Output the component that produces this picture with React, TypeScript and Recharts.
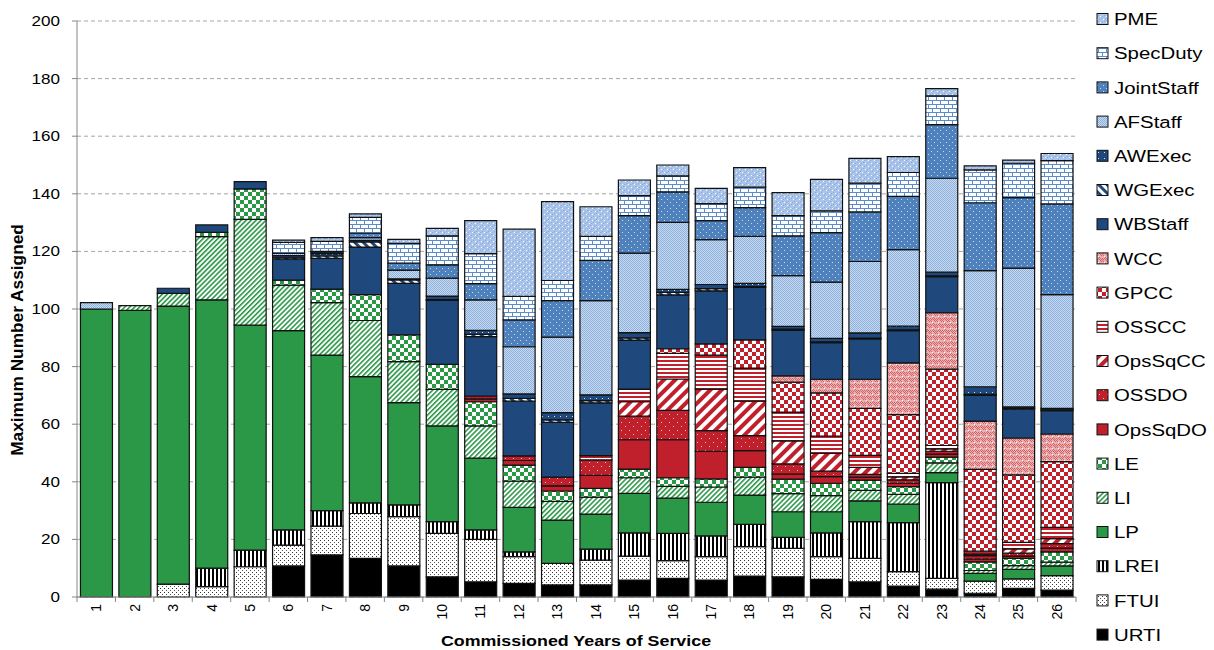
import React from 'react';
import { BarChart, Bar, XAxis, YAxis, CartesianGrid } from 'recharts';

const years = ['1','2','3','4','5','6','7','8','9','10','11','12','13','14','15','16','17','18','19','20','21','22','23','24','25','26'];

const URTI = [0,0,0,0,0,10.8,14.6,13.4,10.8,7,5.3,4.7,4.2,4.2,5.9,6.5,5.9,7.3,7,6.1,5.3,3.8,2.7,1.3,3,2.4];
const FTUI = [0,0,4.5,3.6,10.5,7.2,10,15.6,17.1,15.1,14.7,9.3,7.5,8.6,8.3,6.1,8.1,10.2,9.9,7.9,8.1,5,3.8,4.2,3.3,5];
const LREI = [0,0,0,6.4,5.8,5.3,5.4,3.7,4.1,4.1,3.3,1.7,0,3.8,8.1,9.5,7.2,7.7,3.8,8.3,12.8,17,33.2,0,0,0];
const LP = [100,99.5,96.5,93.2,78.1,69.2,54,43.8,35.5,33.2,24.9,15.4,15,12.2,13.7,12.2,11.7,10.2,8.9,7.3,7.2,6.5,3.5,2.7,3.3,3.4];
const LI = [0,1.7,4.4,21.9,36.7,15.8,18.2,19.5,14.2,12.7,11.2,9.1,6.5,5.9,5.4,4.1,5.3,6.2,6.3,5.6,3.6,3.3,3.4,1,1.3,1.3];
const LE = [0,0,0,1.5,10.6,1.7,4.7,9,9.3,8.7,8.4,5.6,3.6,3,3,3,2.8,3.4,5,4.3,3.6,2.7,2,3,2.5,3.6];
const OpsSqDO = [0,0,0,0,0,0,0,0,0,0,1,1.6,1.8,4.5,10.2,13.2,9.6,5.8,1.8,2.3,1,1.2,1,1,0.8,1.3];
const OSSDO = [0,0,0,0,0,0,0,0,0,0,1,1.6,3,5.4,8.2,10.2,7.2,5.2,3.5,1.9,1,1.2,1,1.2,1,1.5];
const OpsSqCC = [0,0,0,0,0,0,0,0,0,0,0,0,0,0,5,10.9,14.4,12,8,6.2,2.4,1,0.8,0.5,1.5,1.8];
const OSSCC = [0,0,0,0,0,0,0,0,0,0,0,0,0,1.5,4.4,8.9,11.8,11.5,10,6,4.2,1.2,1.2,1,2.3,3.9];
const GPCC = [0,0,0,0,0,0,0,0,0,0,0,0,0,0,0,1.6,3.9,9.8,10.4,15,16.3,20.4,26.5,28.4,23.4,22.8];
const WCC = [0,0,0,0,0,0,0,0,0,0,0,0,0,0,0,0,0,0,2.2,4.7,10.1,18,19.6,16.8,12.8,9.6];
const WBStaff = [0,0,1.8,2.6,2.5,7.3,10.7,16.5,17.9,22.2,20.6,19,19,18.3,17,18.7,18.4,18.2,15.8,12.7,14,11.2,12.5,9,10,8.1];
const WGExec = [0,0,0,0,0,0.5,0.8,1.8,1.2,0.3,0.8,1,0.9,0.8,0.8,0.9,0.8,0.3,0.4,0.3,0.3,0.3,0.3,0.3,0.3,0.3];
const AWExec = [0,0,0,0,0,0.7,0.8,0.5,0.4,1.2,1.4,1.5,2.5,2,1.8,1,1.4,1.1,1,1.2,1.8,1.3,1.3,2.6,0.5,0.5];
const AFStaff = [2.2,0,0,0,0,0.8,0.5,1,3,6.2,10.6,16.4,26.2,32.7,27.6,23.3,15.6,16.3,17.6,19.5,24.8,26.5,32.6,40.3,48.2,39.5];
const JointStaff = [0,0,0,0,0,0,0.3,1.5,2.4,4.6,5.6,9.3,12.7,14,13,10.6,6.6,10,13.8,17.2,17.2,18.5,18.6,23.6,24.5,31.5];
const SpecDuty = [0,0,0,0,0,3.8,3.5,5.5,6.9,10.1,10.4,8.2,7,8.3,7,5.5,5.9,7.1,7,7.6,10,8.3,10,11.4,11.9,15];
const PME = [0,0,0,0,0,0.8,1.3,1.2,1.4,2.6,11.5,23.3,27.4,10.3,5.4,3.8,5.3,6.8,8,10.9,8.6,5.5,2.5,1.4,1.1,2.5];

const yTicks = [0, 20, 40, 60, 80, 100, 120, 140, 160, 180, 200];

// bottom of the stack first
const series: { key: string; values: number[] }[] = [
  { key: 'URTI', values: URTI },
  { key: 'FTUI', values: FTUI },
  { key: 'LREI', values: LREI },
  { key: 'LP', values: LP },
  { key: 'LI', values: LI },
  { key: 'LE', values: LE },
  { key: 'OpsSqDO', values: OpsSqDO },
  { key: 'OSSDO', values: OSSDO },
  { key: 'OpsSqCC', values: OpsSqCC },
  { key: 'OSSCC', values: OSSCC },
  { key: 'GPCC', values: GPCC },
  { key: 'WCC', values: WCC },
  { key: 'WBStaff', values: WBStaff },
  { key: 'WGExec', values: WGExec },
  { key: 'AWExec', values: AWExec },
  { key: 'AFStaff', values: AFStaff },
  { key: 'JointStaff', values: JointStaff },
  { key: 'SpecDuty', values: SpecDuty },
  { key: 'PME', values: PME },
];

const data = years.map((year, i) => {
  const row: Record<string, any> = { year };
  series.forEach((s) => { row[s.key] = s.values[i]; });
  return row;
});

const green = '#2b9848';
const red = '#c0202c';
const navy = '#1f497d';
const blue = '#4f81bd';
const FONT = '"Liberation Sans", Arial, sans-serif';

const fills: Record<string, string> = {
  URTI: '#000000',
  FTUI: 'ftui',
  LREI: 'lrei',
  LP: green,
  LI: 'li',
  LE: 'le',
  OpsSqDO: red,
  OSSDO: 'ossdo',
  OpsSqCC: 'opssqcc',
  OSSCC: 'osscc',
  GPCC: 'gpcc',
  WCC: 'wcc',
  WBStaff: navy,
  WGExec: 'wgexec',
  AWExec: 'awexec',
  AFStaff: 'afstaff',
  JointStaff: 'jointstaff',
  SpecDuty: 'specduty',
  PME: 'pme',
};

const fillFor = (key: string, prefix: string) => {
  const f = fills[key];
  return f.startsWith('#') ? f : `url(#${prefix}-${f})`;
};

function Patterns({ prefix }: { prefix: string }) {
  const id = (n: string) => `${prefix}-${n}`;
  return (
    <defs>
      <pattern id={id('ftui')} width="4" height="4" patternUnits="userSpaceOnUse">
        <rect width="4" height="4" fill="#fff" />
        <rect x="0" y="0" width="1" height="1" fill="#333" />
        <rect x="2" y="2" width="1" height="1" fill="#555" />
      </pattern>
      <pattern id={id('lrei')} width="4" height="4" patternUnits="userSpaceOnUse">
        <rect width="4" height="4" fill="#fff" />
        <rect width="2" height="4" fill="#000" />
      </pattern>
      <pattern id={id('li')} width="3.5" height="3.5" patternUnits="userSpaceOnUse" patternTransform="rotate(45)">
        <rect width="3.5" height="3.5" fill="#fff" />
        <rect width="1.6" height="3.5" fill={green} />
      </pattern>
      <pattern id={id('le')} width="8" height="8" patternUnits="userSpaceOnUse">
        <rect width="8" height="8" fill="#fff" />
        <rect width="4" height="4" fill={green} />
        <rect x="4" y="4" width="4" height="4" fill={green} />
      </pattern>
      <pattern id={id('ossdo')} width="8" height="8" patternUnits="userSpaceOnUse">
        <rect width="8" height="8" fill={red} />
        <rect x="1" y="2" width="1" height="1" fill="#f4c4c4" />
        <rect x="5" y="6" width="1" height="1" fill="#f4c4c4" />
      </pattern>
      <pattern id={id('opssqcc')} width="8" height="8" patternUnits="userSpaceOnUse" patternTransform="rotate(45)">
        <rect width="8" height="8" fill="#fff" />
        <rect width="4" height="8" fill={red} />
      </pattern>
      <pattern id={id('osscc')} width="4" height="4" patternUnits="userSpaceOnUse">
        <rect width="4" height="4" fill="#fff" />
        <rect width="4" height="2" fill={red} />
      </pattern>
      <pattern id={id('gpcc')} width="8" height="8" patternUnits="userSpaceOnUse">
        <rect width="8" height="8" fill="#fff" />
        <rect width="4" height="4" fill={red} />
        <rect x="4" y="4" width="4" height="4" fill={red} />
      </pattern>
      <pattern id={id('wcc')} width="6" height="6" patternUnits="userSpaceOnUse">
        <rect width="6" height="6" fill="#eab0b1" />
        <rect width="1" height="1" fill="#d06466" />
        <rect x="2" y="0" width="1" height="1" fill="#d06466" />
        <rect x="4" y="0" width="1" height="1" fill="#d06466" />
        <rect x="1" y="1" width="1" height="1" fill="#d06466" />
        <rect x="3" y="1" width="1" height="1" fill="#d06466" />
        <rect x="5" y="1" width="1" height="1" fill="#d06466" />
        <rect x="0" y="2" width="1" height="1" fill="#d06466" />
        <rect x="4" y="2" width="1" height="1" fill="#d06466" />
        <rect x="1" y="3" width="1" height="1" fill="#d06466" />
        <rect x="5" y="3" width="1" height="1" fill="#d06466" />
        <rect x="2" y="4" width="1" height="1" fill="#fff" />
        <rect x="3" y="5" width="1" height="1" fill="#d06466" />
      </pattern>
      <pattern id={id('wgexec')} width="6" height="6" patternUnits="userSpaceOnUse" patternTransform="rotate(-45)">
        <rect width="6" height="6" fill="#fff" />
        <rect width="3" height="6" fill={navy} />
      </pattern>
      <pattern id={id('awexec')} width="6" height="6" patternUnits="userSpaceOnUse">
        <rect width="6" height="6" fill={navy} />
        <rect x="2" y="2" width="1" height="1" fill="#dbe5f1" />
      </pattern>
      <pattern id={id('afstaff')} width="2" height="2" patternUnits="userSpaceOnUse">
        <rect width="2" height="2" fill="#c8daf0" />
        <rect width="1" height="1" fill="#8eb0dc" />
        <rect x="1" y="1" width="1" height="1" fill="#8eb0dc" />
      </pattern>
      <pattern id={id('jointstaff')} width="6" height="6" patternUnits="userSpaceOnUse">
        <rect width="6" height="6" fill={blue} />
        <rect x="1" y="1" width="1" height="1" fill="#c9d9ee" />
        <rect x="4" y="4" width="1" height="1" fill="#c9d9ee" />
      </pattern>
      <pattern id={id('specduty')} width="8" height="8" patternUnits="userSpaceOnUse">
        <rect width="8" height="8" fill="#fff" />
        <rect width="8" height="1" fill="#5b8ccc" />
        <rect y="4" width="8" height="1" fill="#5b8ccc" />
        <rect width="1" height="4" fill="#5b8ccc" />
        <rect x="4" y="4" width="1" height="4" fill="#5b8ccc" />
      </pattern>
      <pattern id={id('pme')} width="6" height="6" patternUnits="userSpaceOnUse">
        <rect width="6" height="6" fill="#aac5e9" />
        <rect x="3" y="1" width="1" height="1" fill="#86a9d8" />
        <rect x="0" y="4" width="1" height="1" fill="#86a9d8" />
        <rect x="2" y="3" width="1" height="1" fill="#86a9d8" />
        <rect x="5" y="0" width="1" height="1" fill="#86a9d8" />
        <rect x="1" y="1" width="1" height="1" fill="#ffffff" />
        <rect x="4" y="4" width="1" height="1" fill="#ffffff" />
      </pattern>
    </defs>
  );
}

const CHART_W = 1090;
const CHART_H = 650;
const PLOT_LEFT = 77;
const PLOT_RIGHT = 1076;
const BAND = (PLOT_RIGHT - PLOT_LEFT) / years.length;

const YTick = ({ x, y, payload }: any) => (
  <text
    transform={`translate(${x},${y}) scale(1.22,1)`}
    textAnchor="end"
    dy="0.36em"
    fontSize={14}
    fontFamily={FONT}
    fill="#000"
  >
    {payload.value}
  </text>
);

const XTick = ({ x, y, payload, index }: any) => (
  <g>
    <line x1={x - BAND / 2} x2={x - BAND / 2} y1={y - 6} y2={y - 1} stroke="#868686" />
    {index === years.length - 1 && (
      <line x1={x + BAND / 2} x2={x + BAND / 2} y1={y - 6} y2={y - 1} stroke="#868686" />
    )}
    <text
      transform={`translate(${x},${y + 1}) rotate(-90)`}
      textAnchor="end"
      dy="0.36em"
      fontSize={14}
      fontFamily={FONT}
      fill="#000"
    >
      {payload.value}
    </text>
  </g>
);

function Legend() {
  const items = [...series].reverse();
  return (
    <svg width={124} height={650} style={{ position: 'absolute', left: 1090, top: 0 }}>
      <Patterns prefix="lg" />
      {items.map((s, i) => {
        const cy = 19 + i * 34.2;
        return (
          <g key={s.key}>
            <rect x={7} y={cy - 5.5} width={11} height={11} fill={fillFor(s.key, 'lg')} stroke="#111" strokeWidth={1} />
            <text
              transform={`translate(24,${cy}) scale(1.2,1)`}
              dy="0.36em"
              fontSize={17}
              fontFamily={FONT}
              fill="#000"
            >
              {s.key}
            </text>
          </g>
        );
      })}
    </svg>
  );
}

export default function App() {
  return (
    <div style={{ position: 'absolute', left: 0, top: 0, width: 1214, height: 650, background: '#fff', fontFamily: FONT }}>
      <BarChart
        width={CHART_W}
        height={CHART_H}
        data={data}
        margin={{ top: 21, right: CHART_W - PLOT_RIGHT, left: 17, bottom: 13 }}
        barCategoryGap="9%"
      >
        <Patterns prefix="ch" />
        <CartesianGrid vertical={false} stroke="#a6a6a6" strokeDasharray="4 3" />
        <XAxis
          dataKey="year"
          height={40}
          tickLine={false}
          tickSize={0}
          tickMargin={6}
          axisLine={{ stroke: '#868686' }}
          tick={<XTick />}
          interval={0}
        />
        <YAxis
          width={60}
          domain={[0, 200]}
          ticks={yTicks}
          tickSize={5}
          tickMargin={12}
          axisLine={{ stroke: '#868686' }}
          tickLine={{ stroke: '#868686' }}
          tick={<YTick />}
          interval={0}
        />
        {series.map((s) => (
          <Bar
            key={s.key}
            dataKey={s.key}
            stackId="a"
            fill={fillFor(s.key, 'ch')}
            stroke="#111"
            strokeWidth={1.2}
            isAnimationActive={false}
          />
        ))}
      </BarChart>
      <div
        style={{
          position: 'absolute', left: 18 - 150, top: 340 - 10, width: 300, height: 20,
          lineHeight: '20px', textAlign: 'center', transform: 'rotate(-90deg) scale(1.08,1)',
          fontWeight: 'bold', fontSize: 16, color: '#000',
        }}
      >
        Maximum Number Assigned
      </div>
      <div
        style={{
          position: 'absolute', left: 376, top: 632, width: 400, height: 18,
          lineHeight: '18px', textAlign: 'center', fontWeight: 'bold', fontSize: 15.5,
          color: '#000', transform: 'scale(1.15,1)',
        }}
      >
        Commissioned Years of Service
      </div>
      <Legend />
    </div>
  );
}
